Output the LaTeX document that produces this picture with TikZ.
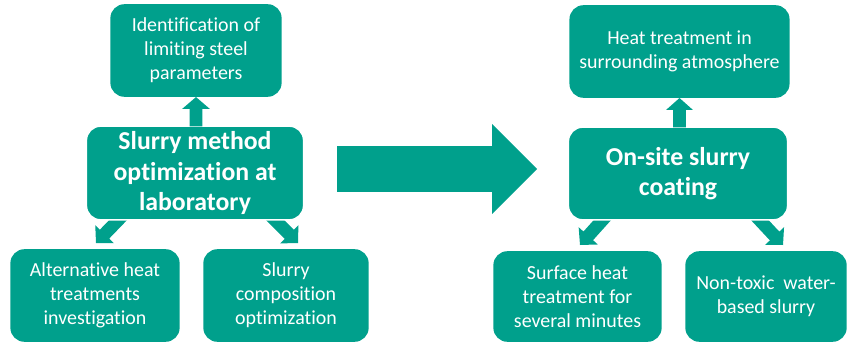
\documentclass[tikz,border=0pt]{standalone}
\usepackage{fontspec}
\setmainfont{Carlito}[Ligatures=NoCommon]
\usetikzlibrary{calc}
\definecolor{tealbox}{RGB}{0,160,140}
\tikzset{
  box/.style={fill=tealbox, rounded corners=12pt, text=white, align=center,
    inner sep=0pt, font=\fontsize{17}{20.4}\selectfont},
  mainbox/.style={box, draw=white, line width=1.2pt,
    font=\fontsize{22}{26}\selectfont\bfseries},
  arr/.style={fill=tealbox},
}
% block arrow: #1 tail, #2 tip, #3 shaft half width, #4 head half width, #5 head length
\newcommand\barrow[5]{%
  \coordinate (bh) at ($(#2)!#5!(#1)$);
  \fill[arr] ($(#1)!#3!90:(#2)$) -- ($(bh)!#3!90:(#2)$) -- ($(bh)!#4!90:(#2)$)
    -- (#2) -- ($(bh)!#4!-90:(#2)$) -- ($(bh)!#3!-90:(#2)$)
    -- ($(#1)!#3!-90:(#2)$) -- cycle;
}
\begin{document}
\begin{tikzpicture}[x=0.03cm, y=-0.03cm]
\useasboundingbox (0,0) rectangle (848,343);

% coordinates for arrows
\coordinate (t1) at (123,215);  \coordinate (p1) at (96,243);
\coordinate (t2) at (270,215);  \coordinate (p2) at (298,243);
\coordinate (t3) at (607,215);  \coordinate (p3) at (580,245);
\coordinate (t4) at (755,215);  \coordinate (p4) at (783,245);
\coordinate (bigtail) at (337,169); \coordinate (bigtip) at (537,169);

% nodes
\node[box, minimum width=172*0.85pt, minimum height=93*0.85pt] (A) at (196,50.5)
  {Identification of\\limiting steel\\parameters};
\node[box, minimum width=170*0.85pt, minimum height=93*0.85pt] (C) at (95,295.5)
  {Alternative heat\\treatments\\investigation};
\node[box, minimum width=166*0.85pt, minimum height=93*0.85pt] (D) at (286,295.5)
  {Slurry\\composition\\optimization};
\node[box, minimum width=221*0.85pt, minimum height=93*0.85pt] (E) at (679.5,51.5)
  {Heat treatment in\\surrounding atmosphere};
\node[box, minimum width=169*0.85pt, minimum height=91*0.85pt] (G) at (577.5,296.5)
  {Surface heat\\treatment for\\several minutes};
\node[box, minimum width=162*0.85pt, minimum height=91*0.85pt] (H) at (766,296.5)
  {Non-toxic\ \ water-\\based slurry};

% arrows (drawn before the main boxes so the boxes cover the tails)
\barrow{t1}{p1}{5.5pt}{11pt}{10.5pt}
\barrow{t2}{p2}{5.5pt}{11pt}{10.5pt}
\barrow{t3}{p3}{5.5pt}{11pt}{10.5pt}
\barrow{t4}{p4}{5.5pt}{11pt}{10.5pt}
\barrow{bigtail}{bigtip}{19.6pt}{38.3pt}{38.3pt}

\node[mainbox, minimum width=218*0.85pt, minimum height=94*0.85pt] (B) at (195,173)
  {Slurry method\\optimization at\\laboratory};
\node[mainbox, minimum width=220*0.85pt, minimum height=93*0.85pt] (F) at (678,173.5)
  {On-site slurry\\coating};

\barrow{$(A.south |- B.north)+(0,1)$}{A.south}{5.5pt}{11.9pt}{10.2pt}
\barrow{$(E.south |- F.north)+(0,1)$}{E.south}{5.5pt}{11.5pt}{10.2pt}
\end{tikzpicture}
\end{document}
